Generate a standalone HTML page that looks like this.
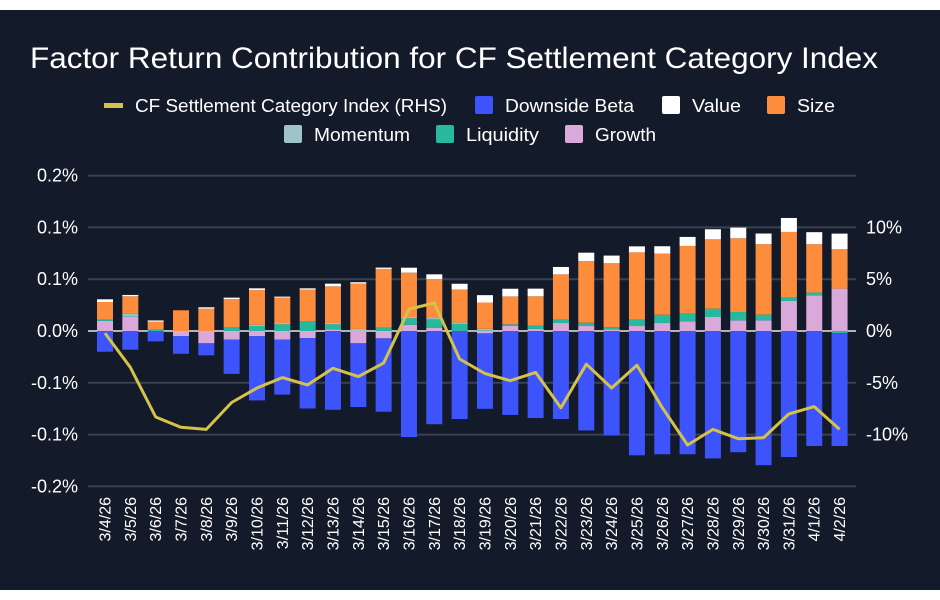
<!DOCTYPE html>
<html><head><meta charset="utf-8">
<style>
html,body{margin:0;padding:0;background:#fff;}
#wrap{position:relative;width:940px;height:600px;overflow:hidden;background:#fff;font-family:"Liberation Sans",sans-serif;}
#panel{position:absolute;left:0;top:10px;width:940px;height:580px;background:#131a29;}
svg{position:absolute;left:0;top:0;}
</style></head>
<body>
<div id="wrap">
<div id="panel"></div>
<svg id="chart" width="940" height="600">
<text x="30" y="68" fill="#ffffff" font-size="30" textLength="848" lengthAdjust="spacingAndGlyphs" font-family="Liberation Sans, sans-serif">Factor Return Contribution for CF Settlement Category Index</text>
<g id="legend" font-size="18" fill="#ffffff" font-family="Liberation Sans, sans-serif">
<g><rect x="104" y="103" width="19" height="5" fill="#d4c24a"/><text x="135" y="112" textLength="312" lengthAdjust="spacingAndGlyphs">CF Settlement Category Index (RHS)</text></g>
<g><rect x="475" y="96" width="18" height="18" rx="2" fill="#3d54fc"/><text x="505" y="112" textLength="129" lengthAdjust="spacingAndGlyphs">Downside Beta</text></g>
<g><rect x="662" y="96" width="18" height="18" rx="2" fill="#ffffff"/><text x="692" y="112" textLength="49" lengthAdjust="spacingAndGlyphs">Value</text></g>
<g><rect x="767" y="96" width="18" height="18" rx="2" fill="#fd8c3c"/><text x="797" y="112" textLength="38" lengthAdjust="spacingAndGlyphs">Size</text></g>
<g><rect x="284" y="125" width="18" height="18" rx="2" fill="#9ec4ca"/><text x="314" y="141" textLength="96" lengthAdjust="spacingAndGlyphs">Momentum</text></g>
<g><rect x="436" y="125" width="18" height="18" rx="2" fill="#27b89e"/><text x="466" y="141" textLength="73" lengthAdjust="spacingAndGlyphs">Liquidity</text></g>
<g><rect x="565" y="125" width="18" height="18" rx="2" fill="#d9a9d9"/><text x="595" y="141" textLength="61" lengthAdjust="spacingAndGlyphs">Growth</text></g>
</g>
<g id="grid"></g><g id="bars"></g><g id="line"></g><g id="axes"></g>
</svg>
</div>
<script>
const categories = ["3/4/26","3/5/26","3/6/26","3/7/26","3/8/26","3/9/26","3/10/26","3/11/26","3/12/26","3/13/26","3/14/26","3/15/26","3/16/26","3/17/26","3/18/26","3/19/26","3/20/26","3/21/26","3/22/26","3/23/26","3/24/26","3/25/26","3/26/26","3/27/26","3/28/26","3/29/26","3/30/26","3/31/26","4/1/26","4/2/26"];
const downsideBeta = [-0.020,-0.018,-0.010,-0.017,-0.0116,-0.033,-0.062,-0.053,-0.068,-0.076,-0.0615,-0.0708,-0.1024,-0.090,-0.085,-0.0728,-0.081,-0.084,-0.085,-0.096,-0.1008,-0.120,-0.119,-0.119,-0.123,-0.117,-0.1295,-0.1217,-0.111,-0.109];
const valueF = [0.0026,0.0013,0.0013,0,0.0013,0.0013,0.0016,0.001,0.0013,0.0026,0.0013,0.0013,0.0048,0.0045,0.0055,0.0071,0.0074,0.0074,0.0071,0.008,0.0074,0.0058,0.0071,0.0087,0.0097,0.0103,0.0103,0.0135,0.0116,0.0151];
const sizeF = [0.017,0.017,0.0074,0.020,0.0216,0.0274,0.0335,0.0245,0.0306,0.0354,0.0438,0.0567,0.0428,0.0377,0.032,0.0254,0.027,0.0283,0.0438,0.0596,0.0618,0.065,0.059,0.0654,0.067,0.0712,0.068,0.0634,0.0467,0.038];
const momentum = [0,0.002,0,0,0,0,0.0013,0.0013,0,0.0013,0.002,0,0.0013,0.0013,0.0013,0.0016,0,0,0,0,0,0,0,0,0,0,0,0,0,0];
const liquidity = [0.0013,0.0005,0.0015,0,0,0.0035,0.0048,0.0064,0.0093,0.0048,0,0.0032,0.0061,0.008,0.0068,0.0005,0.0016,0.0032,0.0032,0.0032,0.002,0.0061,0.008,0.0074,0.008,0.008,0.0055,0.0032,0.0026,-0.002];
const growth = [0.0097,0.014,0,-0.005,-0.0119,-0.0084,-0.005,-0.0084,-0.0068,0.0016,-0.0119,-0.0071,0.0061,0.0032,0,-0.0023,0.0048,0.002,0.0077,0.0048,0.0016,0.0048,0.0077,0.0093,0.0135,0.0103,0.0103,0.029,0.0345,0.0409];
const indexRHS = [-0.2,-3.5,-8.3,-9.3,-9.5,-6.9,-5.5,-4.5,-5.2,-3.6,-4.4,-3.1,2.1,2.7,-2.7,-4.1,-4.8,-4.0,-7.4,-3.2,-5.5,-3.3,-7.4,-11.0,-9.5,-10.4,-10.3,-8.0,-7.3,-9.5];
const leftTicks = [0.15,0.10,0.05,0,-0.05,-0.10,-0.15];
const leftTickLabels = ["0.2%","0.1%","0.1%","0.0%","-0.1%","-0.1%","-0.2%"];
const rightTicks = [10,5,0,-5,-10];
const rightTickLabels = ["10%","5%","0%","-5%","-10%"];

const NS="http://www.w3.org/2000/svg";
const zeroY=331, pxPerLeft=51.8/0.05, pxPerRight=51.8/5;
const yL=v=>zeroY - v*pxPerLeft;
const yR=v=>zeroY - v*pxPerRight;
const xC=i=>105 + i*25.33;
const BW=16;
function mk(tag,attrs,parent){const e=document.createElementNS(NS,tag);for(const k in attrs)e.setAttribute(k,attrs[k]);parent.appendChild(e);return e;}
const grid=document.getElementById('grid'),bars=document.getElementById('bars'),lineG=document.getElementById('line'),axes=document.getElementById('axes');
leftTicks.forEach((t,i)=>{
  const gl=mk('line',{x1:88,x2:856,y1:yL(t),y2:yL(t),stroke:t===0?'#e6e6e6':'#3b4150','stroke-width':t===0?1.5:2},grid);
  
  
  const tx=mk('text',{x:78,y:yL(t)+6,fill:'#fff','font-size':18,'text-anchor':'end','font-family':'Liberation Sans, sans-serif'},axes);
  tx.textContent=leftTickLabels[i];
  
  
});
rightTicks.forEach((t,i)=>{
  const tx=mk('text',{x:866,y:yR(t)+6,fill:'#fff','font-size':18,'font-family':'Liberation Sans, sans-serif'},axes);
  tx.textContent=rightTickLabels[i];
  
  
});
const series=[["growth",growth,"#d9a9d9"],["liquidity",liquidity,"#27b89e"],["momentum",momentum,"#9ec4ca"],["size",sizeF,"#fd8c3c"],["value",valueF,"#ffffff"],["downside-beta",downsideBeta,"#3d54fc"]];
categories.forEach((c,i)=>{
  let pos=0,neg=0;
  series.forEach(([name,arr,col])=>{
    const v=arr[i]; if(!v) return;
    let y0,y1;
    if(v>0){y0=yL(pos+v);y1=yL(pos);pos+=v;}else{y0=yL(neg);y1=yL(neg+v);neg+=v;}
    const r=mk('rect',{x:xC(i)-BW/2,y:y0,width:BW,height:Math.max(0.5,y1-y0),fill:col},bars);
    
    
  });
  const tx=mk('text',{transform:`translate(${xC(i)+5.5},497) rotate(-90)`,fill:'#fff','font-size':16,'text-anchor':'end','font-family':'Liberation Sans, sans-serif'},axes);
  tx.textContent=c;
  
  
});
const pts=indexRHS.map((v,i)=>xC(i).toFixed(1)+','+yR(v).toFixed(1)).join(' ');
const pl=mk('polyline',{points:pts,fill:'none',stroke:'#d4c24a','stroke-width':3,'stroke-linejoin':'round'},lineG);


</script>
</body></html>
